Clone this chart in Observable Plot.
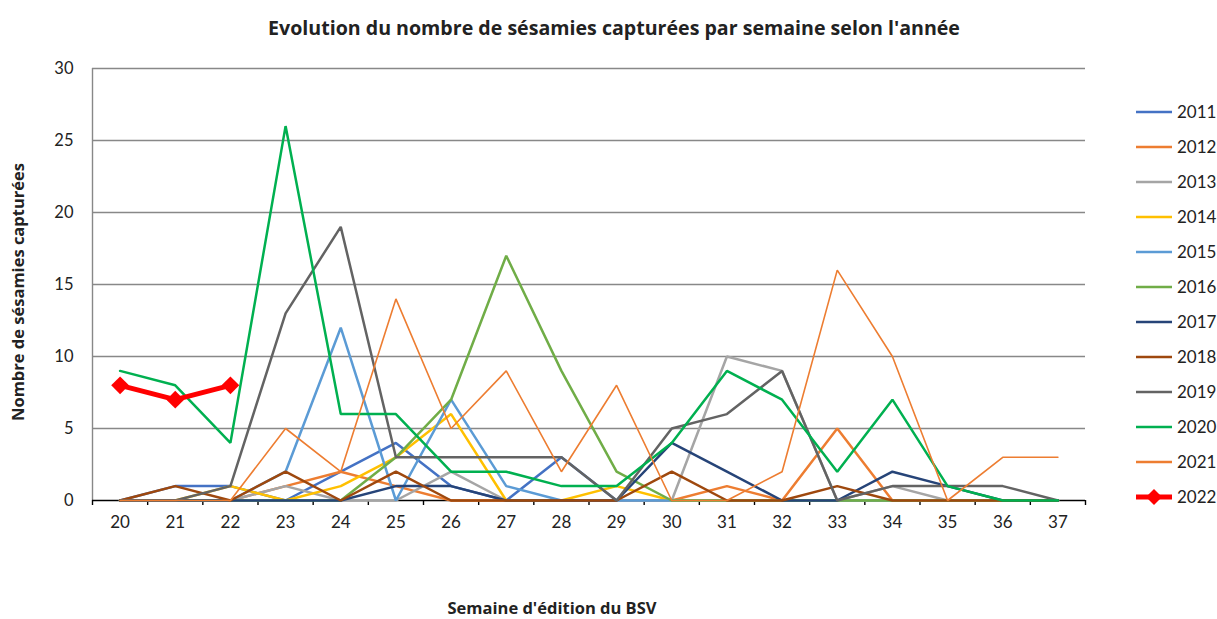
<!DOCTYPE html>
<html>
<head>
<meta charset="utf-8">
<script src="https://cdn.jsdelivr.net/npm/d3@7"></script>
<script src="https://cdn.jsdelivr.net/npm/@observablehq/plot@0.6"></script>
<style>
  html, body { margin: 0; padding: 0; background: #fff; }
  #wrap { position: relative; width: 1217px; height: 619px; overflow: hidden; font-family: Lato, "Open Sans", sans-serif; color: #222; }
  #title { position: absolute; top: 14px; left: 0; width: 1228px; text-align: center; font-weight: bold; font-size: 19.6px; font-family: "Open Sans", sans-serif; }
  #chart { position: absolute; top: 50px; left: 0; }
  #ylabel { position: absolute; left: 18px; top: 292px; transform: translate(-50%, -50%) rotate(-90deg); white-space: nowrap; font-weight: bold; font-size: 16.5px; line-height: 1; font-family: "Open Sans", sans-serif; }
  #xlabel { position: absolute; top: 599px; left: 0; width: 1104px; text-align: center; font-weight: bold; font-size: 16.5px; line-height: 1.1; font-family: "Open Sans", sans-serif; }
  #legend { position: absolute; left: 1134px; top: 94px; }
  .item { height: 35px; display: flex; align-items: center; font-size: 17px; }
  .item svg { margin-right: 3px; }
</style>
</head>
<body>
<div id="wrap">
  <div id="title"></div>
  <div id="chart"></div>
  <div id="ylabel"></div>
  <div id="xlabel"></div>
  <div id="legend"></div>
</div>
<script>
const titleText = "Evolution du nombre de sésamies capturées par semaine selon l'année";
const yTitle = "Nombre de sésamies capturées";
const xTitle = "Semaine d'édition du BSV";

const weeks = [20,21,22,23,24,25,26,27,28,29,30,31,32,33,34,35,36,37];
const yTicks = [0,5,10,15,20,25,30];

const years = ["2011","2012","2013","2014","2015","2016","2017","2018","2019","2020","2021","2022"];
const v2011 = [0,1,1,0,2,4,1,0,3,0,0,0,0,0,0,0,0,0];
const v2012 = [0,0,0,1,2,1,0,0,0,0,0,1,0,5,0,0,0,0];
const v2013 = [0,0,0,1,0,0,2,0,0,0,0,10,9,0,1,0,0,0];
const v2014 = [0,0,1,0,1,3,6,0,0,1,0,0,0,0,0,0,0,0];
const v2015 = [0,0,0,2,12,0,7,1,0,0,0,0,0,0,0,0,0,0];
const v2016 = [0,0,0,0,0,3,7,17,9,2,0,0,0,0,0,0,0,0];
const v2017 = [0,0,0,0,0,1,1,0,0,0,4,2,0,0,2,1,0,0];
const v2018 = [0,1,0,2,0,2,0,0,0,0,2,0,0,1,0,0,0,0];
const v2019 = [0,0,1,13,19,3,3,3,3,0,5,6,9,0,1,1,1,0];
const v2020 = [9,8,4,26,6,6,2,2,1,1,4,9,7,2,7,1,0,0];
const v2021 = [0,0,0,5,2,14,5,9,2,8,0,0,2,16,10,0,3,3];
const v2022 = [8,7,8];

const seriesValues = [v2011,v2012,v2013,v2014,v2015,v2016,v2017,v2018,v2019,v2020,v2021,v2022];
const colors = ["#4472C4","#ED7D31","#A5A5A5","#FFC000","#5B9BD5","#70AD47","#264478","#9E480E","#636363","#00B050","#ED7D31","#FF0000"];
const widths = [2.5,2.5,2.5,2.5,2.5,2.5,2.5,2.5,2.5,2.5,1.6,5];

const series = years.map((year, i) => ({
  year, color: colors[i], width: widths[i],
  data: seriesValues[i].map((v, j) => ({week: weeks[j], value: v}))
}));

// category boundaries (tick marks between categories)
const bounds = [weeks[0] - 0.5, ...weeks.map(w => w + 0.5)];

document.getElementById("title").textContent = titleText;
document.getElementById("ylabel").textContent = yTitle;
document.getElementById("xlabel").textContent = xTitle;

const gridColor = "#888888";
const marks = [
  Plot.gridY(yTicks.filter(t => t > 0), {stroke: gridColor, strokeOpacity: 1, strokeWidth: 1.4}),
  Plot.ruleX([bounds[0]], {y1: yTicks[0], y2: yTicks[yTicks.length - 1], stroke: gridColor, strokeWidth: 1.4}),
  Plot.ruleY([0], {stroke: "#000", strokeWidth: 1.4}),
  Plot.axisX(bounds, {tickSize: 5, tickFormat: () => "", stroke: "#000", strokeWidth: 1.4, label: null}),
  Plot.axisX(weeks, {tickSize: 0, tickPadding: 15, fontSize: 17, fill: "#222", label: null}),
  Plot.axisY(yTicks, {tickSize: 0, tickPadding: 19, fontSize: 16.5, fill: "#222", label: null}),
  ...series.map(s => Plot.line(s.data, {x: "week", y: "value", stroke: s.color, strokeWidth: s.width, strokeLinejoin: "miter"})),
  Plot.dot(series[series.length - 1].data, {x: "week", y: "value", symbol: "diamond2", r: 8, fill: "#FF0000", stroke: "none"})
];

const chart = Plot.plot({
  width: 1100,
  height: 569,
  marginLeft: 92,
  marginRight: 15,
  marginTop: 18,
  marginBottom: 119,
  style: {fontFamily: "Lato, 'Open Sans', sans-serif", background: "transparent"},
  x: {type: "linear", domain: [bounds[0], bounds[bounds.length - 1]], label: null},
  y: {domain: [yTicks[0], yTicks[yTicks.length - 1]], label: null},
  marks
});
document.getElementById("chart").appendChild(chart);

const legend = document.getElementById("legend");
series.forEach(s => {
  const item = document.createElement("div");
  item.className = "item";
  const isLast = s.year === "2022";
  const svg = `<svg width="40" height="16" viewBox="0 0 40 16">
    <line x1="2" y1="8" x2="38" y2="8" stroke="${s.color}" stroke-width="${isLast ? 5 : 2.5}"/>
    ${isLast ? `<path d="M20 0 L28 8 L20 16 L12 8 Z" fill="${s.color}"/>` : ""}
  </svg>`;
  item.innerHTML = svg + `<span>${s.year}</span>`;
  legend.appendChild(item);
});
</script>
</body>
</html>
